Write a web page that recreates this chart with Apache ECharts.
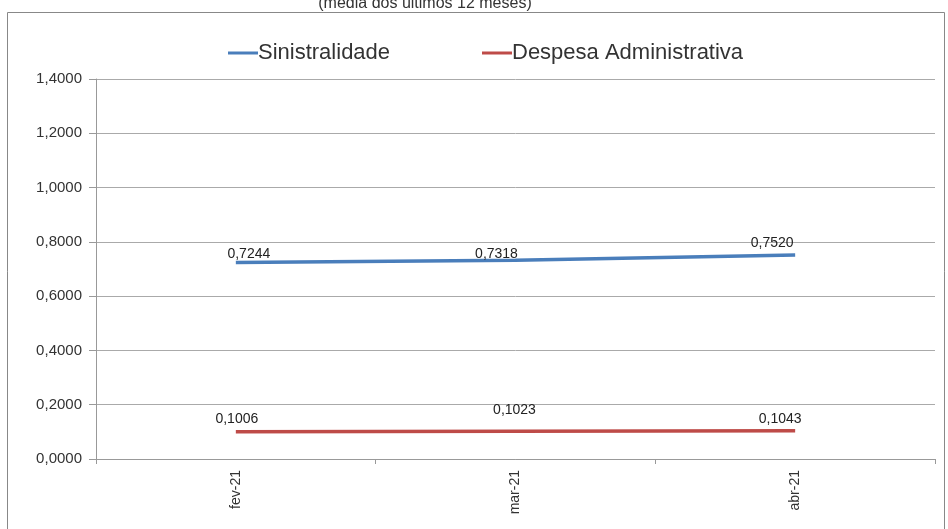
<!DOCTYPE html>
<html><head><meta charset="utf-8">
<script src="https://cdn.jsdelivr.net/npm/echarts@6/dist/echarts.min.js"></script>
<style>html,body{margin:0;padding:0;background:#fff}#c{width:948px;height:529px}</style>
</head><body><div id="c"></div>
<script>
const categories = ['fev-21', 'mar-21', 'abr-21'];
const sinistralidade = [0.7244, 0.7318, 0.7520];
const despesaAdm = [0.1006, 0.1023, 0.1043];
const seriesNames = ['Sinistralidade', 'Despesa Administrativa'];
const titleText = '(média dos últimos 12 meses)';

// label placement tweaks (style only)
const blueLabelOffsets = [[13, -1.5], [-19, 0.5], [-23, -5]];
const redLabelOffsets = [[1, -5.5], [-1, -14], [-15, -4.5]];

const FONT = 'Liberation Sans, Arial, sans-serif';
const fmt = v => v.toFixed(4).replace('.', ',');
const withOffsets = (vals, offs) => vals.map((v, i) => ({ value: v, label: { offset: offs[i] } }));

const chart = echarts.init(document.getElementById('c'));
chart.setOption({
  backgroundColor: '#fff',
  animation: false,
  title: {
    text: titleText, left: 425, top: -4, textAlign: 'center', padding: 0,
    textStyle: { fontFamily: FONT, fontSize: 16, fontWeight: 'normal', color: '#333' }
  },
  graphic: [{
    type: 'rect', shape: { x: 7.5, y: 12.5, width: 937, height: 530 },
    style: { fill: 'none', stroke: '#888', lineWidth: 1 }, silent: true, z: -1
  }],
  legend: [
    {
      top: 42, left: 228, itemWidth: 30, itemHeight: 3, icon: 'rect', padding: 0,
      textStyle: { fontFamily: FONT, fontSize: 22, color: '#333', padding: [0, 0, 0, -5] },
      data: [seriesNames[0]]
    },
    {
      top: 42, left: 482, itemWidth: 30, itemHeight: 3, icon: 'rect', padding: 0,
      textStyle: { fontFamily: FONT, fontSize: 22, color: '#333', padding: [0, 0, 0, -5] },
      data: [seriesNames[1]]
    }
  ],
  grid: { left: 96, right: 13, top: 79, bottom: 70 },
  xAxis: {
    type: 'category', data: categories, boundaryGap: true,
    axisLine: { lineStyle: { color: '#999' } },
    axisTick: { show: true, alignWithLabel: false, length: 5, lineStyle: { color: '#999' } },
    axisLabel: { rotate: 90, color: '#333', fontFamily: FONT, fontSize: 14, margin: 11 }
  },
  yAxis: {
    type: 'value', min: 0, max: 1.4, interval: 0.2,
    axisLine: { show: true, lineStyle: { color: '#999' } },
    axisTick: { show: true, length: 7, lineStyle: { color: '#999' } },
    splitLine: { lineStyle: { color: '#aaa' } },
    axisLabel: { formatter: fmt, color: '#333', fontFamily: FONT, fontSize: 15, margin: 14 }
  },
  series: [
    {
      name: seriesNames[0], type: 'line', data: withOffsets(sinistralidade, blueLabelOffsets),
      symbol: 'circle', symbolSize: 0, showSymbol: true,
      lineStyle: { width: 3.5, color: '#4a7ebb' }, itemStyle: { color: '#4a7ebb' },
      label: { show: true, position: 'top', distance: 0, formatter: p => fmt(p.value), color: '#222', fontFamily: FONT, fontSize: 14 }
    },
    {
      name: seriesNames[1], type: 'line', data: withOffsets(despesaAdm, redLabelOffsets),
      symbol: 'circle', symbolSize: 0, showSymbol: true,
      lineStyle: { width: 3.5, color: '#be4b48' }, itemStyle: { color: '#be4b48' },
      label: { show: true, position: 'top', distance: 0, formatter: p => fmt(p.value), color: '#222', fontFamily: FONT, fontSize: 14 }
    }
  ]
});
</script></body></html>
